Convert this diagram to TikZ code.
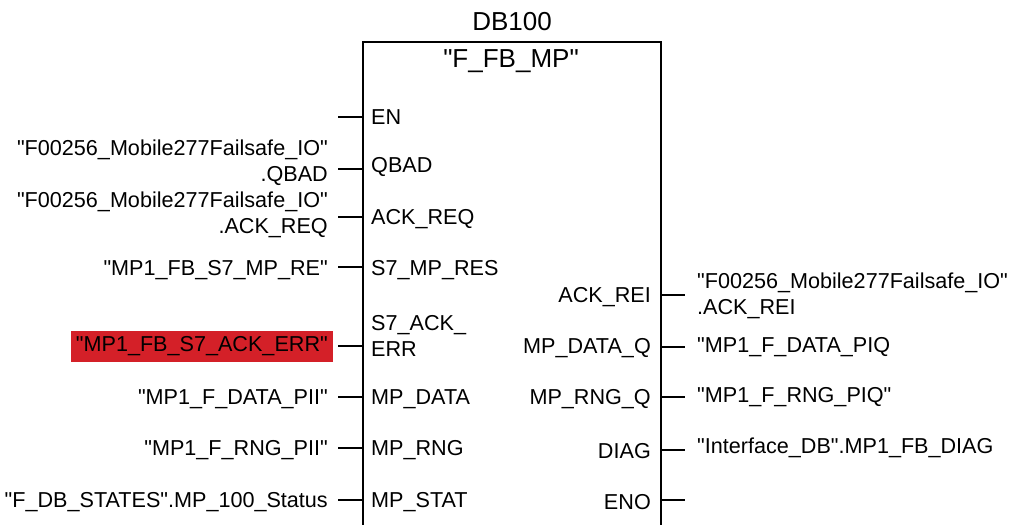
\documentclass[tikz,border=0pt]{standalone}
\usepackage{fontspec}
\setmainfont{Liberation Sans}[Ligatures=TeXOff]
\usetikzlibrary{positioning}
\definecolor{errred}{RGB}{212,32,40}

\begin{document}
\begin{tikzpicture}[x=1pt,y=-1pt]
\tikzstyle{lbl}=[inner sep=0pt, font=\fontsize{21.6}{26}\selectfont]
\tikzstyle{inpin}=[lbl, anchor=west, align=left]
\tikzstyle{outpin}=[lbl, anchor=east, align=right]
\tikzstyle{src}=[lbl, anchor=east, align=right]
\tikzstyle{dst}=[lbl, anchor=west, align=left]
\tikzstyle{title}=[inner sep=0pt, font=\fontsize{26}{30}\selectfont]
\tikzstyle{stub}=[line width=1.2pt]
\useasboundingbox (0,0) rectangle (1018,525);

% function block (open at the bottom)
\coordinate (bl) at (363,525);
\coordinate (tl) at (363,42);
\coordinate (tr) at (661,42);
\coordinate (br) at (661,525);
\draw[line width=1.3pt] (bl) -- (tl) -- (tr) -- (br);
\node[title] (db) at (512,22) {DB100};
\node[title] (fb) at (511,61) {"F\_FB\_MP"};

% input pins
\node[inpin] (en) at (371,117) {EN};
\node[inpin] (qbad) at (371,167) {QBAD};
\node[inpin] (ackreq) at (371,219) {ACK\_REQ};
\node[inpin] (mpres) at (371,270) {S7\_MP\_RES};
\node[inpin] (ackerr) at (371,336) {S7\_ACK\_\\ERR};
\node[inpin] (mpdata) at (371,399) {MP\_DATA};
\node[inpin] (mprng) at (371,450) {MP\_RNG};
\node[inpin] (mpstat) at (371,502) {MP\_STAT};

% output pins
\node[outpin] (ackrei) at (651,297) {ACK\_REI};
\node[outpin] (dataq) at (651,348) {MP\_DATA\_Q};
\node[outpin] (rngq) at (651,399) {MP\_RNG\_Q};
\node[outpin] (diag) at (651,451) {DIAG};
\node[outpin] (eno) at (651,502) {ENO};

% actual parameters, inputs
\node[src] (qbadvar) at (328,163) {"F00256\_Mobile277Failsafe\_IO"\\.QBAD};
\node[src] (ackreqvar) at (328,215) {"F00256\_Mobile277Failsafe\_IO"\\.ACK\_REQ};
\node[src] (mpresvar) at (328,270) {"MP1\_FB\_S7\_MP\_RE"};
\node[src, fill=errred, inner xsep=5pt, minimum height=31pt] (ackerrvar) at (333,346) {"MP1\_FB\_S7\_ACK\_ERR"};
\node[src] (mpdatavar) at (328,399) {"MP1\_F\_DATA\_PII"};
\node[src] (mprngvar) at (328,450) {"MP1\_F\_RNG\_PII"};
\node[src] (mpstatvar) at (328,502) {"F\_DB\_STATES".MP\_100\_Status};

% actual parameters, outputs
\node[dst] (ackreivar) at (697,296) {"F00256\_Mobile277Failsafe\_IO"\\.ACK\_REI};
\node[dst] (dataqvar) at (697,347) {"MP1\_F\_DATA\_PIQ};
\node[dst] (rngqvar) at (697,397) {"MP1\_F\_RNG\_PIQ"};
\node[dst] (diagvar) at (697,448) {"Interface\_DB".MP1\_FB\_DIAG};

% connection stubs
\foreach \n/\y in {en/117, qbad/169, ackreq/217, mpres/267, ackerr/346, mpdata/397, mprng/448, mpstat/500} {
  \coordinate (\n-in) at (338,\y);
  \coordinate (\n-pin) at (363,\y);
  \draw[stub] (\n-in) -- (\n-pin);
}
\foreach \n/\y in {ackrei/295, dataq/347, rngq/397, diag/450, eno/500} {
  \coordinate (\n-pin) at (661,\y);
  \coordinate (\n-out) at (685,\y);
  \draw[stub] (\n-pin) -- (\n-out);
}
\end{tikzpicture}
\end{document}
